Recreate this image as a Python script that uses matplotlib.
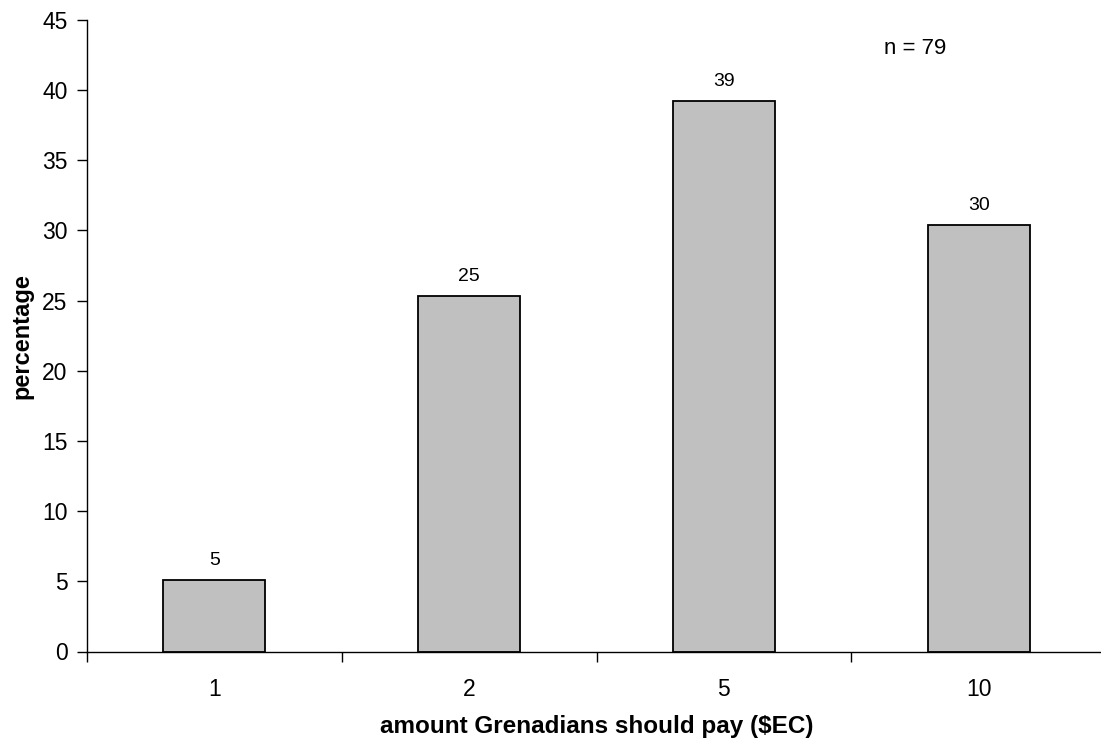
import matplotlib
matplotlib.use("Agg")
import matplotlib.pyplot as plt
from matplotlib.ticker import FixedLocator

categories = ["1", "2", "5", "10"]
values = [5.06, 25.32, 39.24, 30.38]
labels = ["5", "25", "39", "30"]
n_text = "n = 79"

plt.rcParams['font.family'] = ['Liberation Sans', 'DejaVu Sans']

fig = plt.figure(figsize=(11.01, 7.42), dpi=100)
ax = fig.add_axes([87/1101, 90.5/742, 1019/1101, 631.5/742])

x = list(range(len(categories)))
bars = ax.bar(x, values, width=0.4, color="#C0C0C0", edgecolor="black", linewidth=1.3, zorder=2)
ax.bar_label(bars, labels=labels, padding=8, fontsize=14)

ax.set_xlim(-0.5, len(categories) - 0.5)
ax.set_ylim(0, 45)
ax.set_yticks(range(0, 46, 5))
ax.set_xticks(x)
ax.set_xticklabels(categories)
ax.xaxis.set_minor_locator(FixedLocator([i + 0.5 for i in range(-1, len(categories))]))

for s in ["top", "right"]:
    ax.spines[s].set_visible(False)
for s in ["left", "bottom"]:
    ax.spines[s].set_linewidth(1.0)
    ax.spines[s].set_color("black")

ax.tick_params(axis="y", direction="out", length=7, width=1.0, labelsize=16.5, pad=7)
ax.tick_params(axis="x", which="major", length=0, labelsize=16.5, pad=19)
ax.tick_params(axis="x", which="minor", direction="out", length=7, width=1.0)

ax.set_xlabel("amount Grenadians should pay ($EC)", fontsize=17.5, fontweight="bold", labelpad=10)
ax.set_ylabel("percentage", fontsize=17, fontweight="bold", labelpad=6)

ax.text(2.75, 42.95, n_text, fontsize=16, ha="center", va="center")

fig.savefig("out.png", dpi=100)
